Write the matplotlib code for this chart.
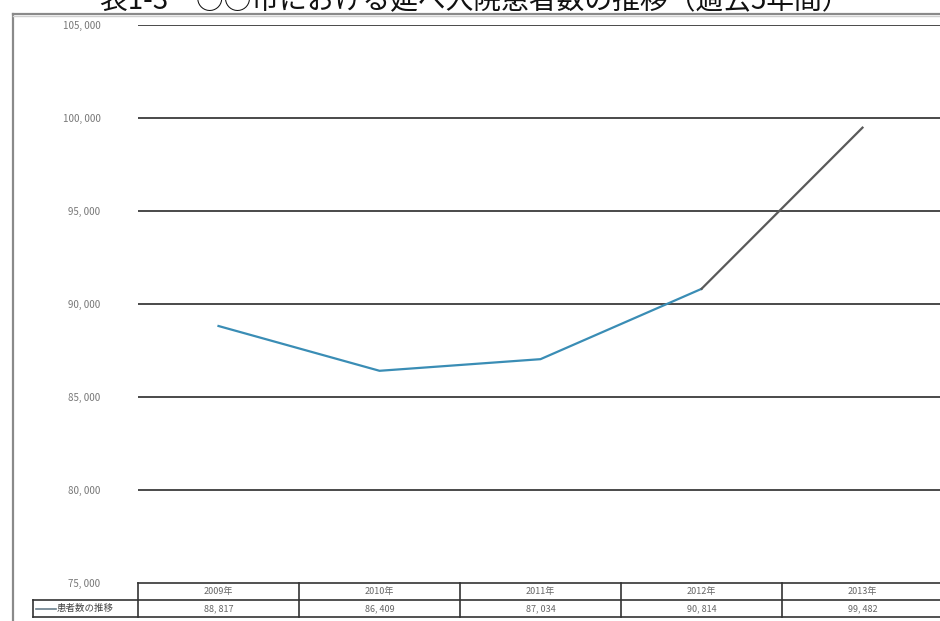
import matplotlib.pyplot as plt
from matplotlib.transforms import blended_transform_factory

plt.rcParams['font.family'] = ['Noto Sans CJK JP', 'DejaVu Sans']

# 延べ入院患者数（年別）
years = ['2009年', '2010年', '2011年', '2012年', '2013年']
patients = [88817, 86409, 87034, 90814, 99482]
yticks = [75000, 80000, 85000, 90000, 95000, 100000, 105000]
row_label = '患者数の推移'
title = '表1-3　○○市における延べ入院患者数の推移（過去5年間）'


def fmt(v):
    return f'{v:,}'.replace(',', ', ')


W, H = 940, 621
fig = plt.figure(figsize=(W / 100, H / 100), dpi=100)

# ページの枠線
fig.add_artist(plt.Line2D([13 / W, 13 / W], [0, 1 - 14 / H], color='#8a8a8a', lw=1.6))
fig.add_artist(plt.Line2D([13 / W, 1], [1 - 14 / H, 1 - 14 / H], color='#8a8a8a', lw=1.6))
fig.add_artist(plt.Line2D([13 / W, 1], [1 - 16 / H, 1 - 16 / H], color='#d0d0d0', lw=1.0))

fig.text(0.505, 1 - 1 / H, title, ha='center', va='center', fontsize=20, color='#111111')

# グラフ領域（横軸は各年の列幅に合わせる）
col_w = 161
left_px, top_px, bottom_px = 138, 25, 583
ax = fig.add_axes([left_px / W, 1 - bottom_px / H,
                   len(years) * col_w / W, (bottom_px - top_px) / H])
ax.set_xlim(-0.5, len(years) - 0.5)
ax.set_ylim(yticks[0], yticks[-1])
for s in ax.spines.values():
    s.set_visible(False)
ax.set_xticks([])
ax.set_yticks(yticks)
ax.set_yticklabels([fmt(v) for v in yticks], fontsize=7, color='#777777')
ax.tick_params(axis='y', length=0, pad=27)

for v in yticks[1:]:
    ax.axhline(v, color='#4a4a4a', lw=1.4, zorder=1)

x = list(range(len(years)))
ax.plot(x[:4], patients[:4], color='#3a8db5', lw=1.6, zorder=3)
ax.plot(x[3:], patients[3:], color='#5a5a5a', lw=1.6, zorder=3)

# データ表
tr = blended_transform_factory(ax.transData, ax.transAxes)
row_h = 17 / (bottom_px - top_px)
label_left = -0.5 - 105 / col_w
tcol = '#333333'
kw = dict(transform=tr, clip_on=False, color=tcol, lw=1.2)
ax.plot([-0.5, len(years) - 0.5], [0, 0], **kw)
ax.plot([label_left, len(years) - 0.5], [-row_h, -row_h], **kw)
ax.plot([label_left, len(years) - 0.5], [-2 * row_h, -2 * row_h], **kw)
ax.plot([label_left, label_left], [-row_h, -2 * row_h], **kw)
for i in range(len(years) + 1):
    ax.plot([i - 0.5, i - 0.5], [0, -2 * row_h], **kw)

for i, (yr, v) in enumerate(zip(years, patients)):
    ax.text(i, -0.5 * row_h, yr, transform=tr, ha='center', va='center',
            fontsize=6.5, color='#666666')
    ax.text(i, -1.5 * row_h, fmt(v), transform=tr, ha='center', va='center',
            fontsize=6.5, color='#666666')

ax.plot([label_left + 0.02, label_left + 0.14], [-1.5 * row_h, -1.5 * row_h],
        transform=tr, clip_on=False, color='#6a7f8c', lw=1.2)
ax.text(label_left + 0.15, -1.5 * row_h, row_label, transform=tr, ha='left',
        va='center', fontsize=6.8, color='#444444')

fig.savefig('out.png', dpi=100, facecolor='white')
